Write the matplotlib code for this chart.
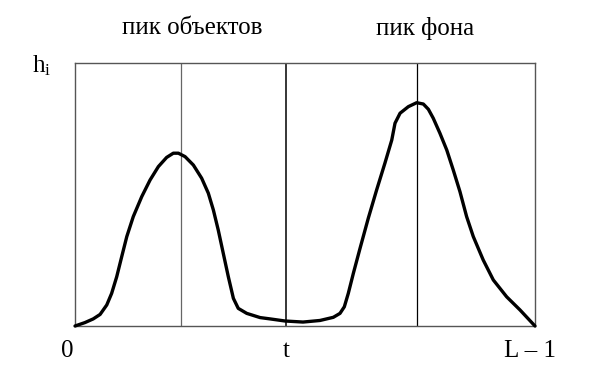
import matplotlib.pyplot as plt

plt.rcParams['font.family'] = ['Liberation Serif', 'DejaVu Serif']
plt.rcParams['mathtext.fontset'] = 'custom'
plt.rcParams['mathtext.rm'] = 'Liberation Serif'
plt.rcParams['mathtext.it'] = 'Liberation Serif'

# histogram outline: gray level -> h_i (arbitrary units, 100 = top of frame)
levels = [0, 5.5, 10.1, 13.9, 17.6, 20.3, 23.1, 25.9, 28.7, 32.3, 37.0, 41.6,
          46.2, 50.8, 54.5, 57.3, 61.0, 65.6, 70.2, 73.9, 76.7, 79.4, 82.2,
          85.0, 87.8, 90.5, 95.2, 102.6, 108.1, 116.4, 126.4, 135.8, 143.2,
          146.9, 149.3, 151.5, 154.3, 158.0, 162.6, 167.2, 171.8, 175.6, 177.4,
          180.2, 184.8, 189.4, 193.1, 195.9, 198.6, 202.3, 206.1, 209.7, 213.4,
          217.1, 220.8, 226.3, 231.9, 239.3, 246.7, 255]
counts = [0, 1.3, 2.7, 4.4, 8.0, 12.4, 18.7, 26.4, 34.0, 41.6, 49.2, 55.5,
          60.6, 64.1, 65.7, 65.7, 64.4, 61.2, 56.2, 50.5, 44.1, 36.5, 27.6,
          18.7, 10.5, 6.7, 4.8, 3.2, 2.7, 1.9, 1.5, 2.1, 3.3,
          4.8, 7.3, 12.4, 20.0, 29.5, 41.0, 51.7, 61.9, 70.7, 77.1,
          80.9, 83.4, 84.9, 84.4, 82.4, 79.0, 73.3, 66.9, 59.3, 51.1,
          41.6, 34.0, 25.1, 17.5, 11.1, 6.1, 0]

obj_peak = 58.8
threshold = 117
bg_peak = 189.6
x_max = 255

fig = plt.figure(figsize=(6.06, 3.66), dpi=100)
ax = fig.add_axes([0.1238, 0.1093, 0.759, 0.7186])

ax.plot(levels, counts, color='black', lw=2.4, solid_joinstyle='round',
        solid_capstyle='round', clip_on=False, zorder=3)

ax.axvline(obj_peak, color='#666666', lw=0.9)
ax.axvline(threshold, color='black', lw=1.1)
ax.axvline(bg_peak, color='black', lw=0.9)

ax.set_xlim(0, x_max)
ax.set_ylim(0, 100)
ax.set_xticks([])
ax.set_yticks([])
for s in ax.spines.values():
    s.set_color('#555555')
    s.set_linewidth(1.0)

fs = 18
ax.text(-4.4, -9.5, '0', ha='center', va='center', fontsize=fs)
ax.text(threshold, -9.5, 't', ha='center', va='center', fontsize=fs)
ax.text(252, -9.5, 'L – 1', ha='center', va='center', fontsize=fs)
ax.text(-18.3, 99, r'$\mathrm{h_i}$', ha='center', va='center', fontsize=fs)
ax.text(64.9, 113.3, 'пик объектов', ha='center', va='center', fontsize=fs)
ax.text(194, 113.3, 'пик фона', ha='center', va='center', fontsize=fs)

fig.savefig('out.png', dpi=100)
